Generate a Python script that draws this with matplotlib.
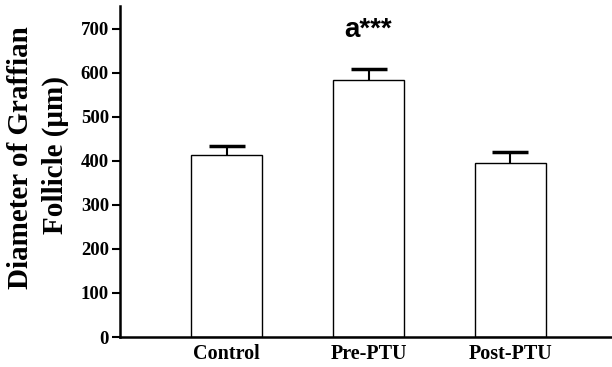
import matplotlib
matplotlib.use("Agg")
import matplotlib.pyplot as plt

categories = ["Control", "Pre-PTU", "Post-PTU"]
means = [413, 583, 395]
errors = [22, 25, 25]
yticks = [0, 100, 200, 300, 400, 500, 600, 700]
annotation = "a***"

fig = plt.figure(figsize=(6.12, 3.67), dpi=100)
ax = fig.add_axes([120/612, 30/367, (612-120)/612, (337-6)/367])

x = list(range(len(categories)))
ax.bar(x, means, width=0.5, color="white", edgecolor="black", linewidth=1.0, zorder=2)
eb = ax.errorbar(x, means, yerr=[[0]*len(errors), errors], fmt="none", ecolor="black",
                 elinewidth=1.5, capsize=13, capthick=2.5, zorder=3)
eb[1][0].set_visible(False)

ax.set_xlim(-0.754, 2.718)
ax.set_ylim(0, 752)
ax.set_yticks(yticks)
ax.set_xticks(x)
ax.set_xticklabels(categories, fontfamily="Liberation Serif", fontweight="bold", fontsize=14.5)
for lab in ax.get_yticklabels():
    lab.set_fontfamily("Liberation Serif")
    lab.set_fontweight("bold")
    lab.set_fontsize(13.5)
ax.tick_params(axis="x", length=0, pad=5)
ax.tick_params(axis="y", length=6, width=1.5, pad=2, direction="out")
for s in ["top", "right"]:
    ax.spines[s].set_visible(False)
ax.spines["left"].set_linewidth(1.8)
ax.spines["bottom"].set_linewidth(1.8)

ax.text(1, 682, annotation, ha="center", va="baseline",
        fontfamily="Liberation Sans", fontweight="bold", fontsize=20)

fig.text(21/612, 1 - 158/367, "Diameter of Graffian", rotation=90, ha="center", va="center",
         fontfamily="Liberation Serif", fontweight="bold", fontsize=21)
fig.text(55/612, 1 - 155/367, "Follicle (\u03bcm)", rotation=90, ha="center", va="center",
         fontfamily="Liberation Serif", fontweight="bold", fontsize=21)

fig.savefig("out.png", dpi=100)
